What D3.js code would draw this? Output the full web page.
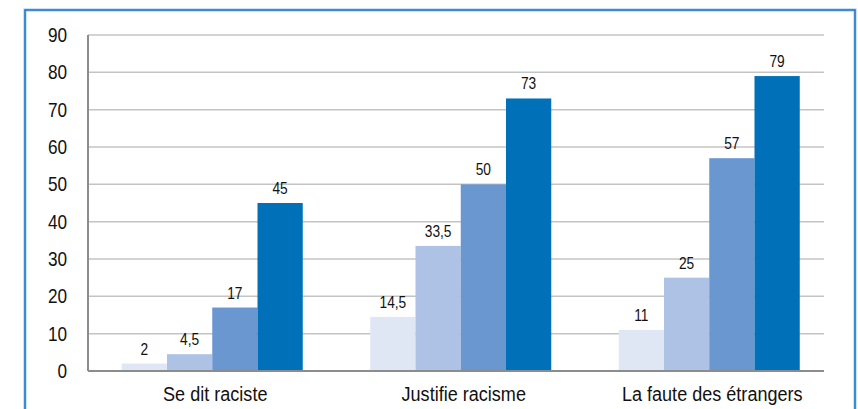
<!DOCTYPE html>
<html><head><meta charset="utf-8">
<script src="https://cdn.jsdelivr.net/npm/d3@7"></script>
<style>
html,body{margin:0;padding:0;background:#fff;}
svg{display:block;font-family:"Liberation Sans Narrow","Arial Narrow","Liberation Sans",Arial,sans-serif;}
</style></head>
<body>
<svg id="chart" width="858" height="409"></svg>
<script>
const categories = ["Se dit raciste", "Justifie racisme", "La faute des étrangers"];
const seriesNames = ["s1", "s2", "s3", "s4"];
const s1 = [2, 14.5, 11];
const s2 = [4.5, 33.5, 25];
const s3 = [17, 50, 57];
const s4 = [45, 73, 79];
const seriesValues = [s1, s2, s3, s4];
const valueLabels = [["2","14,5","11"],["4,5","33,5","25"],["17","50","57"],["45","73","79"]];
const yTicks = [0,10,20,30,40,50,60,70,80,90];
const colors = ["#dfe6f4", "#adc2e4", "#6a97d0", "#0070b8"];

const SX = 0.86;
const svg = d3.select("#chart");
// frame
svg.append("path").attr("d","M25,409 V10 H855 V409")
  .attr("fill","none").attr("stroke","#9cc7ec").attr("stroke-width",3);
svg.append("path").attr("d","M25,409 V10 H855 V409")
  .attr("fill","none").attr("stroke","#1f78c6").attr("stroke-width",1.5);

const x0 = 88, x1 = 824, yTop = 35, yBot = 371;
const y = d3.scaleLinear().domain([0,90]).range([yBot, yTop]);
const xb = d3.scaleBand().domain(categories).range([88, 833.5]).padding(0);
const groupW = 181;
const xs = d3.scaleBand().domain(seriesNames).range([0, groupW]).padding(0);

// gridlines
svg.append("g").selectAll("line").data(yTicks.filter(d=>d>0)).join("line")
  .attr("x1",x0).attr("x2",x1).attr("y1",d=>y(d)).attr("y2",d=>y(d))
  .attr("stroke","#c4c4c4").attr("stroke-width",1.5);

// y tick labels
svg.append("g").selectAll("text").data(yTicks).join("text")
  .attr("transform",d=>`translate(67,${y(d)+7}) scale(${SX},1)`)
  .attr("text-anchor","end")
  .attr("font-size",20).attr("fill","#111").text(d=>d);

// bars
seriesValues.forEach((vals,si)=>{
  const g = svg.append("g");
  const bx = (i)=>xb(categories[i]) + xb.bandwidth()/2 - groupW/2 + xs(seriesNames[si]);
  g.selectAll("rect").data(vals).join("rect")
    .attr("x",(d,i)=>bx(i))
    .attr("width",xs.bandwidth())
    .attr("y",d=>y(d)).attr("height",d=>yBot-y(d))
    .attr("fill",colors[si]);
  g.selectAll("text").data(vals).join("text")
    .attr("transform",(d,i)=>`translate(${bx(i)+xs.bandwidth()/2},${y(d)-9}) scale(${SX},1)`)
    .attr("text-anchor","middle")
    .attr("font-size",16).attr("fill","#111")
    .text((d,i)=>valueLabels[si][i]);
});

// axes lines
svg.append("line").attr("x1",x0).attr("x2",x0).attr("y1",yTop).attr("y2",yBot)
  .attr("stroke","#8c8c8c").attr("stroke-width",2);
svg.append("line").attr("x1",x0).attr("x2",x1).attr("y1",yBot).attr("y2",yBot)
  .attr("stroke","#8c8c8c").attr("stroke-width",2);

// category labels
svg.append("g").selectAll("text").data(categories).join("text")
  .attr("transform",d=>`translate(${xb(d)+xb.bandwidth()/2+3},401) scale(${SX},1)`)
  .attr("text-anchor","middle")
  .attr("font-size",21).attr("fill","#111").text(d=>d);
</script>
</body></html>
